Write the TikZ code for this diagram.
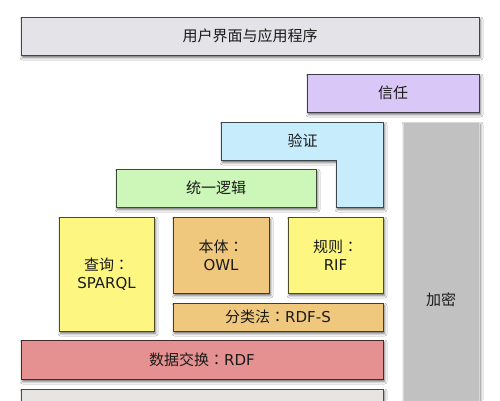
\documentclass[tikz,border=0pt]{standalone}
\usepackage{fontspec}
\setmainfont{DejaVu Sans}
\newfontfamily\cjk{Noto Sans CJK SC}
\newfontfamily\cjkc{Noto Sans CJK TC}
\usetikzlibrary{shadows.blur}
\definecolor{uic}{HTML}{E4E3E8}
\definecolor{trustc}{HTML}{D9C7F7}
\definecolor{verc}{HTML}{C7ECFB}
\definecolor{cryc}{HTML}{C1C1C1}
\definecolor{logc}{HTML}{CDF7B9}
\definecolor{yelc}{HTML}{FDF781}
\definecolor{orac}{HTML}{F0C87D}
\definecolor{rdfc}{HTML}{E59191}
\definecolor{botc}{HTML}{E6E5E4}
\definecolor{txtc}{HTML}{1A1A1A}
\tikzset{
  shad/.style={blur shadow={shadow xshift=1.5pt, shadow yshift=-2.5pt, shadow blur radius=2.5pt, shadow opacity=60}},
  layer/.style={rectangle, draw=#1!30!black, fill=#1, line width=0.9pt, inner sep=0pt, outer sep=0pt,
    text=txtc, align=center, font=\fontsize{15}{18}\selectfont, shad},
  lbl/.style={text=txtc, align=center, font=\fontsize{15}{18}\selectfont, inner sep=0pt}
}
\begin{document}
\begin{tikzpicture}[x=1pt,y=-1pt]
\clip (0,0) rectangle (500,400);
\fill[white] (0,0) rectangle (500,400);
% crypto column
\node[layer=cryc, draw=white!85!black, minimum width=76pt, minimum height=356pt] (cry) at (441,300) {};
\node[lbl] (crylbl) at (441,300) {\cjk 加密};
% user interface
\node[layer=uic, minimum width=458pt, minimum height=38pt] (ui) at (250,36) {\cjk 用户界面与应用程序};
% trust
\node[layer=trustc, minimum width=172pt, minimum height=38pt] (trust) at (393,93) {\cjk 信任};
% verification L shape
\path[fill=verc, draw=verc!30!black, line width=0.9pt, shad]
  (221,122) -- (383,122) -- (383,207) -- (336,207) -- (336,160) -- (221,160) -- cycle;
\node[lbl] (ver) at (302.5,141) {\cjk 验证};
% unified logic
\node[layer=logc, minimum width=200pt, minimum height=38pt] (logic) at (216,188) {\cjk 统一逻辑};
% query
\node[layer=yelc, minimum width=95pt, minimum height=114pt] (query) at (106.5,274) {{\cjk 查询}{\cjkc ：}\\SPARQL};
% ontology
\node[layer=orac, minimum width=96pt, minimum height=76pt] (onto) at (221,255) {{\cjk 本体}{\cjkc ：}\\OWL};
% rules
\node[layer=yelc, minimum width=95pt, minimum height=76pt] (rules) at (335.5,255) {{\cjk 规则}{\cjkc ：}\\RIF};
% taxonomy
\node[layer=orac, minimum width=210pt, minimum height=28pt] (tax) at (278,317) {{\cjk 分类法}{\cjkc ：}RDF-S};
% rdf
\node[layer=rdfc, minimum width=362pt, minimum height=39pt] (rdf) at (202,359.5) {{\cjk 数据交换}{\cjkc ：}RDF};
% bottom layer
\node[layer=botc, draw=black!70, minimum width=362pt, minimum height=42pt] (bot) at (202,410) {};
\end{tikzpicture}
\end{document}
